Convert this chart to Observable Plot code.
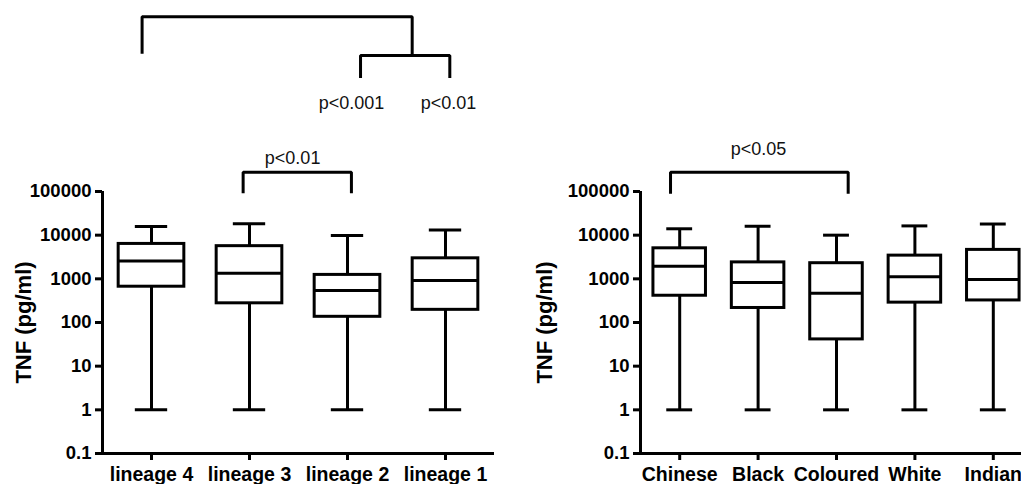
<!DOCTYPE html>
<html>
<head>
<meta charset="utf-8">
<script src="https://cdn.jsdelivr.net/npm/d3@7"></script>
<script src="https://cdn.jsdelivr.net/npm/@observablehq/plot@0.6"></script>
<style>
  html, body { margin: 0; padding: 0; background: #fff; overflow: hidden; width: 1021px; height: 484px; }
  #left { position: absolute; left: 0; top: 0; width: 500px; }
  #right { position: absolute; left: 500px; top: 0; width: 542px; }
  svg { max-width: none !important; }
</style>
</head>
<body>
<div id="left"></div>
<div id="right"></div>
<script>
// ---- Data (five-number summaries) ----
const yTicks = [0.1, 1, 10, 100, 1000, 10000, 100000];
const yLabel = "TNF (pg/ml)";

const lineageCats   = ["lineage 4", "lineage 3", "lineage 2", "lineage 1"];
const lineageMin    = [1, 1, 1, 1];
const lineageQ1     = [660, 275, 135, 195];
const lineageMedian = [2570, 1350, 540, 910];
const lineageQ3     = [6300, 5600, 1230, 2950];
const lineageMax    = [15700, 18200, 9800, 13200];

const groupCats   = ["Chinese", "Black", "Coloured", "White", "Indian"];
const groupMin    = [1, 1, 1, 1, 1];
const groupQ1     = [410, 215, 41, 285, 320];
const groupMedian = [1930, 820, 465, 1110, 960];
const groupQ3     = [5000, 2380, 2280, 3400, 4600];
const groupMax    = [14000, 16000, 10000, 16300, 18000];

// Significance brackets (x in category-index units, y in pg/ml on the log scale)
const lineageBrackets = [
  {id: "tree", pts: [[0.904, 1.42e8], [0.904, 1.0e9], [3.66, 1.0e9], [3.66, 1.3e8]]},
  {id: "sub",  pts: [[3.133, 4.0e7], [3.133, 1.3e8], [4.044, 1.3e8], [4.044, 4.0e7]]},
  {id: "l32",  pts: [[1.935, 9.1e4], [1.935, 2.77e5], [3.04, 2.77e5], [3.04, 9.1e4]]}
];
const lineagePLabels = [
  {x: 3.04, y: 1.06e7, text: "p<0.001"},
  {x: 4.03, y: 1.06e7, text: "p<0.01"},
  {x: 2.44, y: 5.85e5, text: "p<0.01"}
];
const groupBrackets = [
  {id: "cc", pts: [[0.883, 8.9e4], [0.883, 2.77e5], [3.149, 2.77e5], [3.149, 8.9e4]]}
];
const groupPLabels = [
  {x: 2.005, y: 9.4e5, text: "p<0.05"}
];

function panel({cats, mins, q1s, meds, q3s, maxs, brackets, pLabels, marginLeft, width, marginRight, labelDx}) {
  const rows = cats.map((c, i) => ({x: i + 1, min: mins[i], q1: q1s[i], med: meds[i], q3: q3s[i], max: maxs[i]}));
  const bracketPts = brackets.flatMap(b => b.pts.map(([x, y]) => ({id: b.id, x, y})));
  const bw = 0.335, cw = 0.165, sw = 3;
  return Plot.plot({
    width, height: 484,
    marginLeft, marginRight, marginTop: 191, marginBottom: 31,
    style: {fontFamily: "'Liberation Sans', Arial, sans-serif", color: "#000", background: "#fff", overflow: "visible", maxWidth: "none"},
    x: {domain: [0.5, cats.length + 0.5], axis: null},
    y: {type: "log", domain: [0.1, 100000], axis: null},
    marks: [
      Plot.ruleX(rows, {x: "x", y1: "min", y2: "max", stroke: "#000", strokeWidth: sw}),
      Plot.ruleY(rows, {y: "min", x1: d => d.x - cw, x2: d => d.x + cw, stroke: "#000", strokeWidth: sw}),
      Plot.ruleY(rows, {y: "max", x1: d => d.x - cw, x2: d => d.x + cw, stroke: "#000", strokeWidth: sw}),
      Plot.rect(rows, {x1: d => d.x - bw, x2: d => d.x + bw, y1: "q1", y2: "q3", fill: "#fff", stroke: "#000", strokeWidth: sw}),
      Plot.ruleY(rows, {y: "med", x1: d => d.x - bw, x2: d => d.x + bw, stroke: "#000", strokeWidth: sw}),
      Plot.ruleX([0.5], {stroke: "#000", strokeWidth: sw}),
      Plot.ruleY([0.1], {stroke: "#000", strokeWidth: sw}),
      Plot.axisY({ticks: yTicks, tickFormat: d => String(d), tickSize: 7, tickPadding: 4,
        fontSize: 18.5, fontWeight: "bold", strokeWidth: sw, label: null}),
      Plot.axisX({ticks: cats.map((c, i) => i + 1), tickFormat: i => cats[i - 1], tickSize: 7, tickPadding: 7,
        fontSize: 19.5, fontWeight: "bold", strokeWidth: sw, label: null}),
      Plot.text([yLabel], {text: d => d, frameAnchor: "left", textAnchor: "middle", lineAnchor: "middle",
        rotate: -90, dx: labelDx, fontSize: 22, fontWeight: "bold", fill: "#000"}),
      Plot.line(bracketPts, {x: "x", y: "y", z: "id", stroke: "#000", strokeWidth: sw,
        strokeLinejoin: "miter", strokeLinecap: "butt"}),
      Plot.text(pLabels, {x: "x", y: "y", text: "text", fontSize: 18, fill: "#111"})
    ]
  });
}

document.getElementById("left").append(panel({
  cats: lineageCats, mins: lineageMin, q1s: lineageQ1, meds: lineageMedian, q3s: lineageQ3, maxs: lineageMax,
  brackets: lineageBrackets, pLabels: lineagePLabels,
  marginLeft: 102, width: 500, marginRight: 6, labelDx: -79
}));
document.getElementById("right").append(panel({
  cats: groupCats, mins: groupMin, q1s: groupQ1, meds: groupMedian, q3s: groupQ3, maxs: groupMax,
  brackets: groupBrackets, pLabels: groupPLabels,
  marginLeft: 140, width: 542, marginRight: 10, labelDx: -96
}));
</script>
</body>
</html>
